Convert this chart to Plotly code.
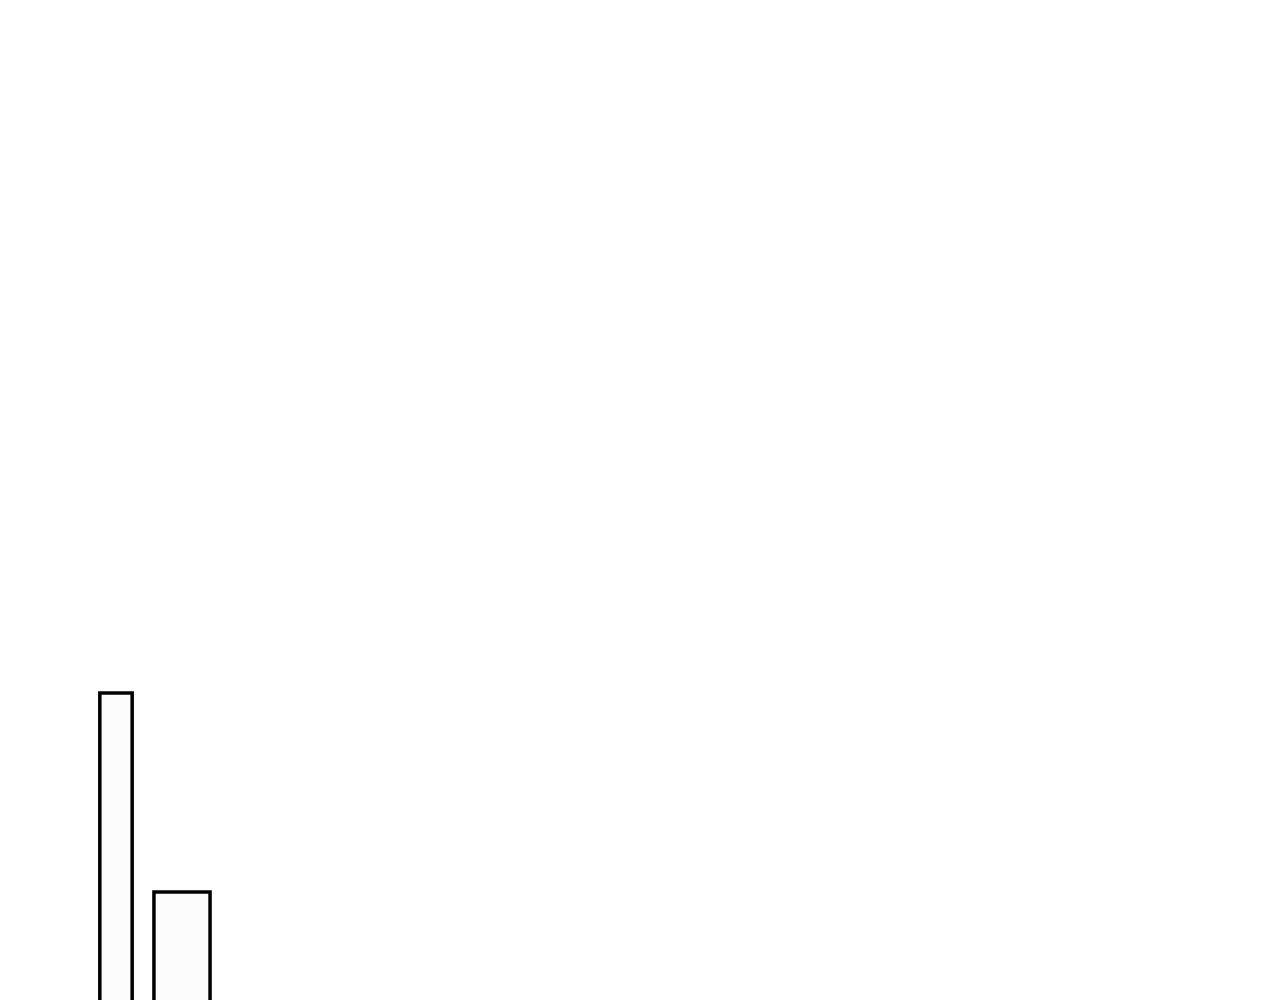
import plotly.graph_objects as go

# data (the chart is cut off below the bars)
categories = ["A", "B"]
values = [315, 116]
bar_widths = [0.49, 0.85]


def make_figure():
    fig = go.Figure()
    fig.add_trace(go.Bar(
        x=categories,
        y=values,
        width=bar_widths,
        marker=dict(color="#fcfcfc", line=dict(color="black", width=3.5)),
        hoverinfo="skip",
        showlegend=False))

    fig.update_layout(
        width=1264,
        height=1000,
        autosize=False,
        margin=dict(l=0, r=0, t=0, b=0),
        paper_bgcolor="white",
        plot_bgcolor="white",
        xaxis=dict(visible=False, range=[-108 / 66, (1264 - 108) / 66]),
        yaxis=dict(visible=False, range=[0, 1000]))
    return fig


fig = make_figure()
fig.write_html("out.html", config={"displayModeBar": False})
